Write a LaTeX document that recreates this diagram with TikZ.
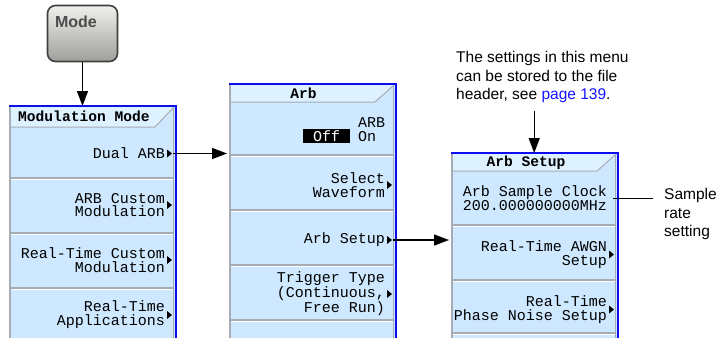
\documentclass[tikz,border=0pt]{standalone}
\usepackage{fontspec}
\setmainfont{Liberation Sans}
\newfontfamily\lcdfont{Liberation Mono}
\usetikzlibrary{arrows.meta,positioning,calc}
\definecolor{celeste}{RGB}{206,233,255}
\definecolor{celesteclaro}{RGB}{222,241,255}
\definecolor{azulborde}{RGB}{12,12,240}
\definecolor{gris}{RGB}{165,172,180}
\definecolor{enlace}{RGB}{20,20,255}
\definecolor{teclaclara}{RGB}{240,240,237}
\definecolor{tecladura}{RGB}{158,158,154}

% panel de menu: nombre, x izq., y sup., y bajo titulo, separadores
\newcommand{\menupanel}[5]{%
  \node[fill=celeste,inner sep=0pt,minimum width=166pt,minimum height={338-#3},
        anchor=north west] (#1) at (#2,#3) {};
  \fill[celesteclaro] (#2,#3) -- (#2+166,#3) -- (#2+146,#4) -- (#2,#4) -- cycle;
  \draw[gris,line width=1pt] (#2,#4) -- (#2+146,#4) -- (#2+164,#3+2);
  \foreach \s in {#5}{
    \draw[gris,line width=1.6pt] (#2+1,\s) -- (#2+165,\s);
    \draw[white,line width=1pt] (#2+1,\s+1.6) -- (#2+165,\s+1.6);
  }
  \draw[gris,line width=1.5pt] (#2+1,#3) -- (#2+1,338);
  \draw[gris,line width=1pt] (#2+164.5,#3) -- (#2+164.5,338);
  \draw[azulborde,line width=2.8pt] (#2,#3) -- (#2+167,#3) -- (#2+167,338);
}

\begin{document}
\begin{tikzpicture}[x=1pt,y=-1pt,
    flecha/.style={-{Triangle[length=15pt,width=11pt]},line width=1.4pt},
    menu/.style={font=\lcdfont\fontsize{15}{13.8}\selectfont,align=right,anchor=east,inner sep=0pt},
    titulo/.style={font=\lcdfont\bfseries\fontsize{14.6}{14}\selectfont,inner sep=0pt},
    nota/.style={font=\fontsize{15.5}{18.5}\selectfont,align=left,anchor=west,inner sep=0pt}]
  \clip (0,0) rectangle (727,338);

  % tecla Mode
  \node[draw=black!75,line width=1.6pt,rounded corners=8pt,top color=teclaclara,
        bottom color=tecladura,minimum width=70pt,minimum height=56pt] (mode) at (82.5,33.5) {};
  \node[font=\bfseries\fontsize{16}{16}\selectfont,text=black!70,inner sep=0pt] (modetxt) at (76,22) {Mode};

  % menus
  \menupanel{modmenu}{9}{106}{127}{178,233,288}
  \menupanel{arbmenu}{229}{84}{102}{155,210,265,320}
  \menupanel{setupmenu}{451}{153}{171}{225,280,333}

  \node[titulo,anchor=west] (modtitle) at (18,116.5) {Modulation Mode};
  \node[titulo] (arbtitle) at (303.5,93.5) {Arb};
  \node[titulo] (setuptitle) at (526,162.5) {Arb Setup};

  \node[menu] (dualarb) at (165,153.5) {Dual ARB};
  \node[menu] (arbcustom) at (165,205) {ARB Custom\\Modulation};
  \node[menu] (rtcustom) at (165,260) {Real-Time Custom\\Modulation};
  \node[menu] (rtapps) at (165,315) {Real-Time\\Applications};

  \node[menu,align=left,anchor=west] (arbon) at (358,129.5) {ARB\\On};
  \node[fill=black,text=white,font=\lcdfont\fontsize{15}{15}\selectfont,inner sep=0pt,
        minimum width=47pt,minimum height=14pt] (arboff) at (326.5,136) {Off};
  \node[menu] (selwave) at (385,185) {Select\\Waveform};
  \node[menu] (arbsetup) at (385,240) {Arb Setup};
  \node[menu] (trigger) at (385,294) {Trigger Type\\(Continuous,\\Free Run)};

  \node[menu] (clock) at (607,198.5) {Arb Sample Clock\\200.000000000MHz};
  \node[menu] (awgn) at (607,254.5) {Real-Time AWGN\\Setup};
  \node[menu] (phase) at (607,309.5) {Real-Time\\Phase Noise Setup};

  \foreach \n in {dualarb,arbcustom,rtcustom,rtapps,selwave,arbsetup,trigger,awgn,phase}
    \fill ([xshift=2pt,yshift=4pt]\n.east) -- ++(5,4) -- ++(-5,4) -- cycle;

  % notas
  \node[nota] (nota) at (456,77) {The settings in this menu\\can be stored to the file\\header, see \textcolor{enlace}{page 139}.};
  \node[nota] (muestra) at (664,214) {Sample\\rate\\setting};

  % conexiones
  \draw[flecha] (mode.south) -- (mode.south |- modmenu.north);
  \draw[flecha,shorten >=2pt] ([xshift=8pt]dualarb.east) -- (dualarb.east -| arbmenu.west);
  \draw[flecha,shorten >=2pt] ([xshift=8pt]arbsetup.east) -- (arbsetup.east -| setupmenu.west);
  \draw[flecha] ([yshift=-8pt]setupmenu.north |- nota.south) -- (setupmenu.north);
  \draw[line width=0.9pt] ([xshift=6pt]clock.east) -- ([xshift=-11pt]clock.east -| muestra.west);
\end{tikzpicture}
\end{document}
